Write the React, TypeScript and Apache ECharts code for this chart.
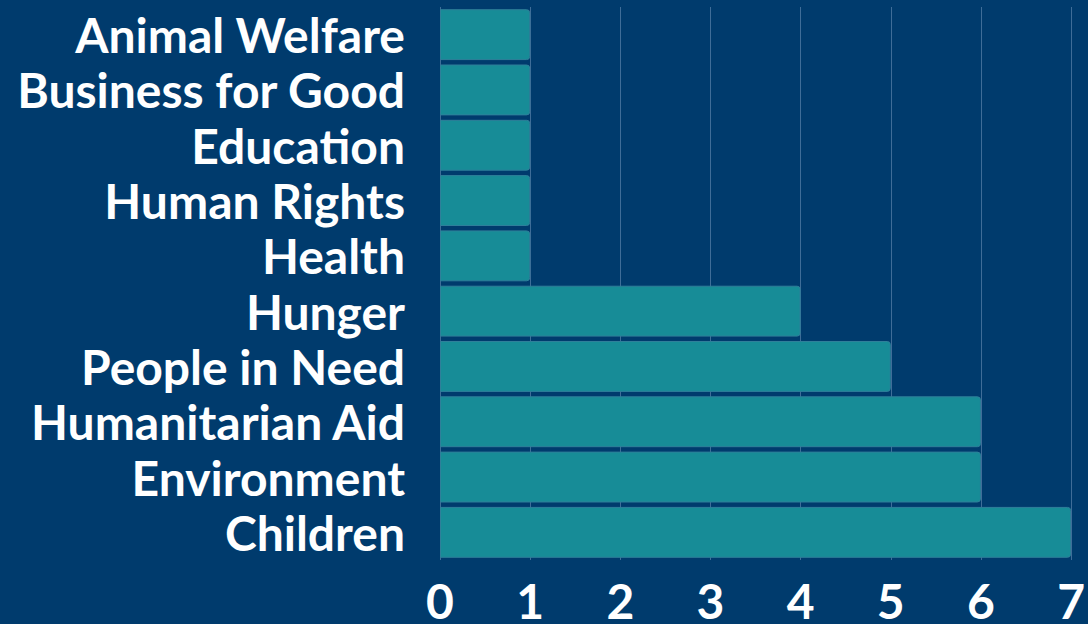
import React, { useEffect, useRef } from "react";
import * as echarts from "echarts";

const categories = [
  "Animal Welfare",
  "Business for Good",
  "Education",
  "Human Rights",
  "Health",
  "Hunger",
  "People in Need",
  "Humanitarian Aid",
  "Environment",
  "Children",
];
const values = [1, 1, 1, 1, 1, 4, 5, 6, 6, 7];

export default function App() {
  const ref = useRef<HTMLDivElement>(null);
  useEffect(() => {
    document.body.style.margin = "0";
    const chart = echarts.init(ref.current!, null, { renderer: "svg" });
    chart.setOption({
      animation: false,
      backgroundColor: "#003b6d",
      grid: { left: 440, right: 7, top: 7, bottom: 54, containLabel: false },
      xAxis: {
        type: "value",
        min: 0,
        max: 7,
        interval: 1,
        axisLine: { show: false },
        axisTick: { show: false },
        splitLine: { show: true, lineStyle: { color: "#3f6d98", width: 1 } },
        axisLabel: {
          color: "#ffffff",
          fontFamily: "Lato",
          fontWeight: "bold",
          fontSize: 48,
          margin: 16,
        },
      },
      yAxis: {
        type: "category",
        data: categories,
        inverse: true,
        axisLine: { show: false },
        axisTick: { show: false },
        axisLabel: {
          color: "#ffffff",
          fontFamily: "Lato",
          fontWeight: "bold",
          fontSize: 48,
          margin: 35,
          interval: 0,
        },
      },
      series: [
        {
          type: "bar",
          data: values,
          barCategoryGap: "8%",
          itemStyle: {
            color: "#178c97",
            borderColor: "#2f7f9a",
            borderWidth: 1,
            borderRadius: [0, 3, 3, 0],
          },
        },
      ],
    });
    return () => chart.dispose();
  }, []);
  return <div ref={ref} style={{ width: 1088, height: 624 }} />;
}
